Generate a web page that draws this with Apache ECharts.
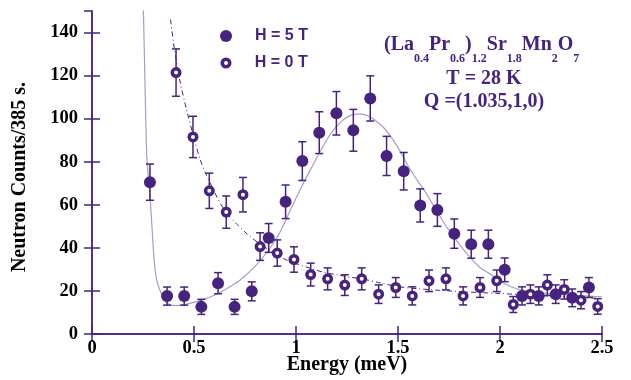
<!DOCTYPE html>
<html>
<head>
<meta charset="utf-8">
<script src="https://cdn.jsdelivr.net/npm/echarts@6/dist/echarts.min.js"></script>
<style>html,body{margin:0;padding:0;background:#fff;}#c{width:631px;height:380px;}</style>
</head>
<body>
<div id="c"></div>
<script>
// ---- data ----
var h5Energy = [0.284,0.368,0.452,0.536,0.618,0.699,0.783,0.866,0.949,1.031,1.114,1.198,1.281,1.364,1.444,1.528,1.609,1.693,1.776,1.859,1.943,2.023,2.108,2.190,2.273,2.354,2.436];
var h5Counts = [70.5,17.6,17.6,12.6,23.6,12.6,19.8,44.6,61.4,80.3,93.5,102.5,94.6,109.4,82.7,75.6,59.7,57.6,46.6,41.7,41.7,29.8,17.7,17.7,18.5,16.8,21.6];
var h5Err = [8.4,4.2,4.2,3.5,4.9,3.5,4.4,6.7,7.8,9.0,9.7,10.1,9.7,10.5,9.1,8.7,7.7,7.6,6.8,6.5,6.5,5.5,4.2,4.2,4.3,4.1,4.6];

var h0Energy = [0.412,0.495,0.575,0.658,0.740,0.824,0.908,0.990,1.072,1.155,1.239,1.322,1.405,1.489,1.570,1.652,1.735,1.819,1.902,1.984,2.065,2.149,2.232,2.315,2.397,2.479];
var h0Counts = [121.4,91.5,66.5,56.6,64.7,40.6,37.6,34.6,27.6,25.6,22.7,25.6,18.5,21.6,17.7,24.7,25.6,17.7,21.6,24.7,13.7,18.5,22.7,20.7,15.7,12.8];
var h0Err = [11.0,9.6,8.2,7.5,8.0,6.4,6.1,5.9,5.3,5.1,4.8,5.1,4.3,4.6,4.2,5.0,5.1,4.2,4.6,5.0,3.7,4.3,4.8,4.5,4.0,3.6];

// fitted curves
var fit5Energy = [0.246,0.252,0.260,0.268,0.276,0.284,0.297,0.309,0.320,0.333,0.350,0.366,0.390,0.410,0.440,0.480,0.536,0.600,0.650,0.725,0.800,0.866,0.920,0.970,1.020,1.069,1.120,1.170,1.220,1.265,1.310,1.360,1.428,1.470,1.510,1.550,1.590,1.640,1.690,1.739,1.790,1.837,1.900,1.950,2.000,2.049,2.100,2.163,2.250,2.350,2.500];
var fit5Counts = [165,150,115,84,73,65,45,30,24,20.4,16.5,14.5,13.4,13.2,13.4,14.2,15.7,18,20.5,25,31.5,39,47,57,67,76,85,93,98.5,101.4,102.2,101,96,91,85,78,72,65,57,49.7,43,37.3,31,28,24.5,22.2,20.5,19.6,18.7,18,17.3];

var fit0Energy = [0.385,0.400,0.430,0.464,0.500,0.530,0.560,0.600,0.630,0.670,0.710,0.760,0.810,0.860,0.905,0.950,1.000,1.070,1.130,1.200,1.270,1.330,1.400,1.500,1.600,1.750,2.000,2.250,2.500];
var fit0Counts = [146,135,118,104,91,81,74,66,60.5,55,51,46.5,42.7,39.5,36.6,34.5,32.7,30.5,28.8,27.5,26.3,25.5,24,22,21,20,18.8,17.6,16.5];

var xTicks = [0, 0.5, 1, 1.5, 2, 2.5];
var yTicks = [0, 20, 40, 60, 80, 100, 120, 140];
var legendNames = ['H = 5 T', 'H = 0 T'];

// ---- chart ----
var PURPLE = '#46237f';
var LIGHT = '#a79bcb';
var SERIF = '"Liberation Serif","Times New Roman",serif';
var SANS = '"Liberation Sans",Arial,sans-serif';

function zip(a, b) { return a.map(function (v, i) { return [v, b[i]]; }); }
function zip3(a, b, c) { return a.map(function (v, i) { return [v, b[i], c[i]]; }); }

function errRender(params, api) {
  var x = api.value(0), y = api.value(1), e = api.value(2);
  var top = api.coord([x, y + e]);
  var bot = api.coord([x, y - e]);
  var w = 4;
  var st = { stroke: PURPLE, lineWidth: 1.5 };
  return {
    type: 'group',
    children: [
      { type: 'line', shape: { x1: top[0], y1: top[1], x2: bot[0], y2: bot[1] }, style: st },
      { type: 'line', shape: { x1: top[0] - w, y1: top[1], x2: top[0] + w, y2: top[1] }, style: st },
      { type: 'line', shape: { x1: bot[0] - w, y1: bot[1], x2: bot[0] + w, y2: bot[1] }, style: st }
    ]
  };
}

var chart = echarts.init(document.getElementById('c'), null, { renderer: 'canvas' });

var tickLabel = { color: '#000', fontFamily: SERIF, fontWeight: 'bold', fontSize: 18.5 };

chart.setOption({
  animation: false,
  backgroundColor: '#fff',
  grid: { left: 92, right: 29, top: 11, bottom: 46, containLabel: false, outerBoundsMode: 'none' },
  legend: [
    {
      data: [{ name: legendNames[0], icon: 'circle', itemStyle: { color: PURPLE, borderWidth: 0 } }],
      left: 215, top: 23, itemWidth: 12, itemHeight: 12, selectedMode: false,
      textStyle: { color: PURPLE, fontFamily: SANS, fontWeight: 'bold', fontSize: 16, padding: [0, 0, 0, 18] }
    },
    {
      data: [{ name: legendNames[1], icon: 'circle', itemStyle: { color: '#fff', borderColor: PURPLE, borderWidth: 3.5 } }],
      left: 215.5, top: 50, itemWidth: 7.5, itemHeight: 7.5, selectedMode: false,
      textStyle: { color: PURPLE, fontFamily: SANS, fontWeight: 'bold', fontSize: 16, padding: [0, 0, 0, 20] }
    }
  ],
  xAxis: [
    {
      type: 'value', min: xTicks[0], max: xTicks[xTicks.length - 1], interval: 0.5,
      name: 'Energy (meV)', nameLocation: 'middle', nameGap: 21, nameMoveOverlap: false,
      nameTextStyle: { color: '#000', fontFamily: SERIF, fontWeight: 'bold', fontSize: 20 },
      axisLine: { show: true, lineStyle: { color: PURPLE, width: 1.5 } },
      axisTick: { show: true, inside: true, length: 8, lineStyle: { color: PURPLE, width: 1.5 } },
      axisLabel: Object.assign({ margin: 5, formatter: function (v) { return String(v); } }, tickLabel),
      splitLine: { show: false }
    },
    {
      type: 'value', position: 'top', min: xTicks[0], max: xTicks[xTicks.length - 1], interval: 0.5,
      axisLine: { show: true, lineStyle: { color: PURPLE, width: 1.5 } },
      axisTick: { show: true, inside: true, length: 8, lineStyle: { color: PURPLE, width: 1.5 } },
      axisLabel: { show: false }, splitLine: { show: false }
    }
  ],
  yAxis: [
    {
      type: 'value', min: 0, max: 150, interval: 20,
      name: 'Neutron Counts/385 s.', nameLocation: 'middle', nameGap: 62, nameMoveOverlap: false,
      nameTextStyle: { color: '#000', fontFamily: SERIF, fontWeight: 'bold', fontSize: 20, padding: [0, 9, 0, 0] },
      axisLine: { show: true, lineStyle: { color: PURPLE, width: 1.5 } },
      axisTick: { show: true, inside: true, length: 8, lineStyle: { color: PURPLE, width: 1.5 } },
      axisLabel: Object.assign({ margin: 14, showMaxLabel: false,
        formatter: function (v) { return yTicks.indexOf(v) >= 0 ? String(v) : ''; } }, tickLabel),
      splitLine: { show: false }
    },
    {
      type: 'value', position: 'right', min: 0, max: 150, interval: 20,
      axisLine: { show: true, lineStyle: { color: PURPLE, width: 1.5 } },
      axisTick: { show: true, inside: true, length: 8, lineStyle: { color: PURPLE, width: 1.5 } },
      axisLabel: { show: false }, splitLine: { show: false }
    }
  ],
  graphic: [
    {
      type: 'text', left: 384, top: 35, z: 100,
      style: {
        text: '{m|(La}{s|0.4}{m|Pr}{s|0.6}{m|)}{s|1.2}{m|Sr}{s|1.8}{m|Mn}{s|2}{m|O}{s|7}',
        rich: {
          m: { fontFamily: SERIF, fontWeight: 'bold', fontSize: 20, fill: PURPLE, color: PURPLE },
          s: { fontFamily: SERIF, fontWeight: 'bold', fontSize: 12, fill: PURPLE, color: PURPLE, padding: [28, 0, 0, 0] }
        }
      }
    },
    {
      type: 'text', x: 484, y: 79, z: 100,
      style: { text: 'T = 28 K', fontFamily: SERIF, fontWeight: 'bold', fontSize: 20, fill: PURPLE, align: 'center', verticalAlign: 'middle' }
    },
    {
      type: 'text', x: 484, y: 102, z: 100,
      style: { text: 'Q =(1.035,1,0)', fontFamily: SERIF, fontWeight: 'bold', fontSize: 20, fill: PURPLE, align: 'center', verticalAlign: 'middle' }
    }
  ],
  series: [
    {
      type: 'line', name: 'fit5', data: zip(fit5Energy, fit5Counts), smooth: 0.3, showSymbol: false, symbol: 'none',
      lineStyle: { color: LIGHT, width: 1.2 }, z: 1, silent: true, clip: true
    },
    {
      type: 'line', name: 'fit0', data: zip(fit0Energy, fit0Counts), smooth: 0.3, showSymbol: false, symbol: 'none',
      lineStyle: { color: PURPLE, width: 1, type: [5, 3, 1, 3] }, z: 1, silent: true, clip: true
    },
    {
      type: 'custom', name: 'err5', renderItem: errRender, data: zip3(h5Energy, h5Counts, h5Err),
      encode: { x: 0, y: 1 }, z: 2, silent: true
    },
    {
      type: 'custom', name: 'err0', renderItem: errRender, data: zip3(h0Energy, h0Counts, h0Err),
      encode: { x: 0, y: 1 }, z: 2, silent: true
    },
    {
      type: 'scatter', name: legendNames[0], data: zip(h5Energy, h5Counts), symbol: 'circle', symbolSize: 12,
      itemStyle: { color: PURPLE, opacity: 1 }, z: 3
    },
    {
      type: 'scatter', name: legendNames[1], data: zip(h0Energy, h0Counts), symbol: 'circle', symbolSize: 7.5,
      itemStyle: { color: '#fff', borderColor: PURPLE, borderWidth: 3.5, opacity: 1 }, z: 3
    }
  ]
});
</script>
</body>
</html>
